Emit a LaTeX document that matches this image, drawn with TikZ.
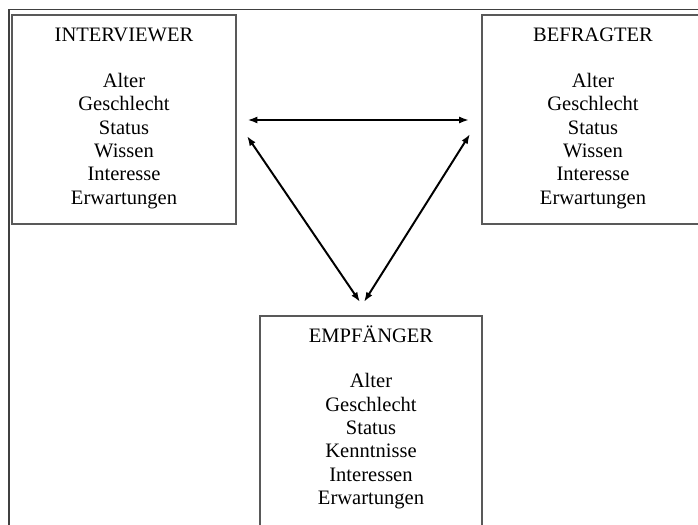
\documentclass[tikz,border=0pt]{standalone}
\usepackage{fontspec}
\setmainfont{Liberation Serif}
\usepackage{tikz}
\usetikzlibrary{arrows.meta}

\begin{document}
\begin{tikzpicture}
            [x=0.025cm, y=-0.025cm,
            kasten/.style = {draw=black!65, line width=1pt,
                        inner sep=0pt},
            liste/.style = {align=center, inner sep=0pt, anchor=north,
                        font=\fontsize{14.6}{16.6}\selectfont},
            pfeil/.style = {{Latex[length=7pt,width=5pt]}-{Latex[length=7pt,width=5pt]},
                        line width=1.4pt}]
            \useasboundingbox (0,0) rectangle (698,525);
            \fill[white] (0,0) rectangle (698,525);
            \clip (0,0) rectangle (698,525);
            % Rahmen
            \draw[black!75, line width=1.4pt] (9,9.5) rectangle (740,560);
            % Kaesten
            \node[kasten, minimum width=5.6cm, minimum height=5.225cm] (intv) at (124,119.5) {};
            \node[kasten, minimum width=5.6cm, minimum height=5.225cm] (befr) at (594,119.5) {};
            \node[kasten, minimum width=5.55cm, minimum height=5.6cm] (empf) at (371,428) {};
            \node[liste] (intv-t) at (124,25.2) {\strut INTERVIEWER\\[15.8pt] Alter\\ Geschlecht\\ Status\\ Wissen\\ Interesse\\ Erwartungen};
            \node[liste] (befr-t) at (593,25.2) {\strut BEFRAGTER\\[15.8pt] Alter\\ Geschlecht\\ Status\\ Wissen\\ Interesse\\ Erwartungen};
            \node[liste] (empf-t) at (371,325.4) {\strut EMPFÄNGER\\[15.8pt] Alter\\ Geschlecht\\ Status\\ Kenntnisse\\ Interessen\\ Erwartungen};
            % Pfeile
            \coordinate (ib) at (247.5,120);
            \coordinate (bi) at (469,120);
            \coordinate (ie) at (247,136);
            \coordinate (ei) at (360,302);
            \coordinate (be) at (470,134);
            \coordinate (eb) at (364,302);
            \draw[pfeil] (ib) -- (bi);
            \draw[pfeil] (ie) -- (ei);
            \draw[pfeil] (be) -- (eb);
        \end{tikzpicture}
\end{document}
